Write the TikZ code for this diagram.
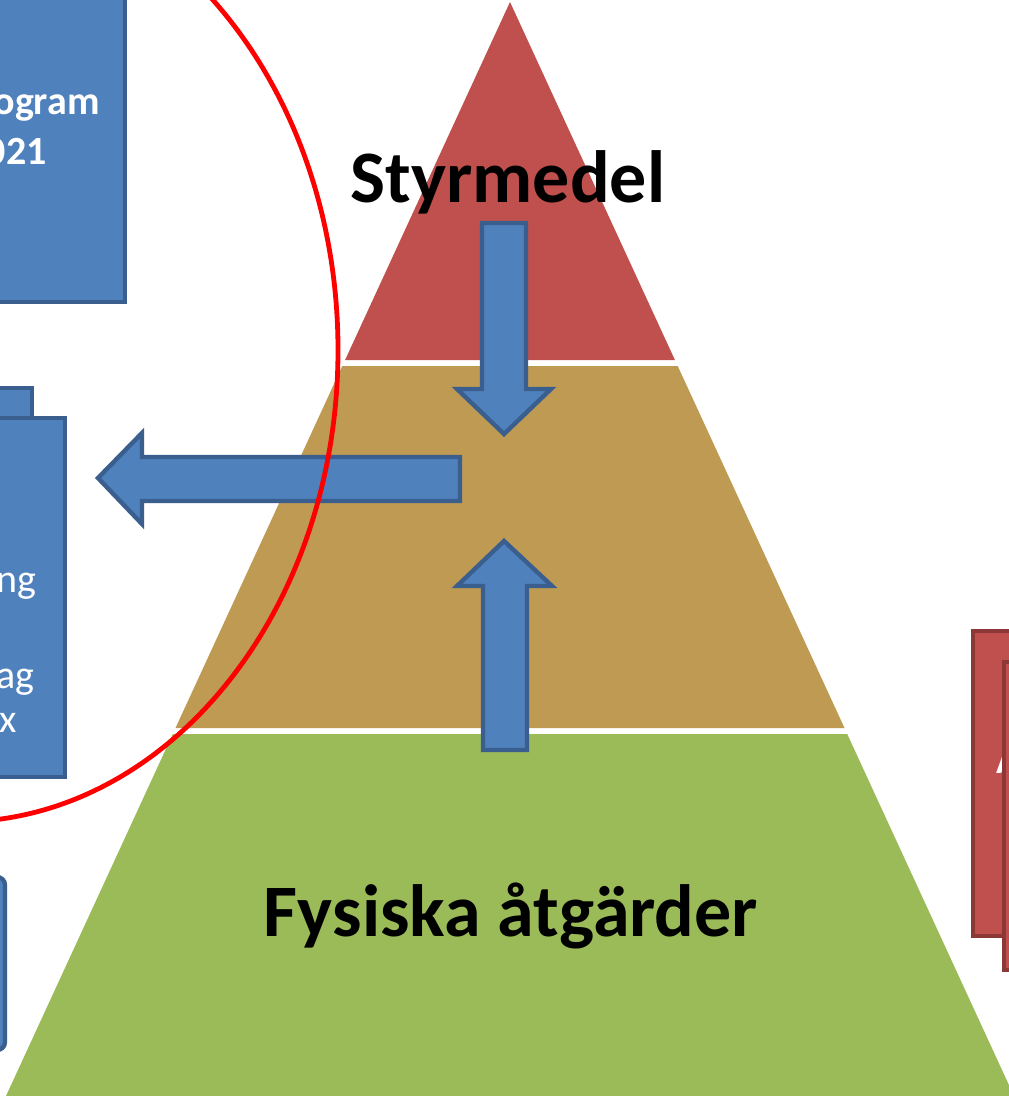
\documentclass[tikz,border=0pt]{standalone}
\usepackage{fontspec}
\setmainfont{Carlito}
\definecolor{pred}{HTML}{C0504D}
\definecolor{ptan}{HTML}{BE9A53}
\definecolor{pgreen}{HTML}{9BBB59}
\definecolor{pblue}{HTML}{4F81BD}
\definecolor{pblueline}{HTML}{3A5F8E}
\definecolor{predline}{HTML}{8C3836}
\begin{document}
\begin{tikzpicture}[x=0.5pt,y=-0.5pt,
  bluebox/.style={fill=pblue,draw=pblueline,line width=2.2pt},
  redbox/.style={fill=pred,draw=predline,line width=2.2pt},
  blockarrow/.style={fill=pblue,draw=pblueline,line width=2.2pt,line join=miter},
  bigtext/.style={font=\bfseries\fontsize{37}{44}\selectfont,text=black,inner sep=0pt},
  boxbold/.style={font=\bfseries\fontsize{20}{24}\selectfont,text=white,inner sep=0pt},
  boxtext/.style={font=\fontsize{20}{24}\selectfont,text=white,inner sep=0pt}]
\useasboundingbox (0,0) rectangle (1008,1096);
\fill[white] (0,0) rectangle (1008,1096);
% pyramid layers
\fill[pred] (510,2) -- (674.9,360) -- (345.1,360) -- cycle;
\fill[ptan] (342.3,366) -- (677.7,366) -- (844.5,728) -- (175.5,728) -- cycle;
\fill[pgreen] (172.8,734) -- (847.2,734) -- (1014,1096) -- (6,1096) -- cycle;
% texts on pyramid
\node[bigtext,anchor=base] (styr) at (508,203) {Styrmedel};
\node[bigtext,anchor=base] (fys) at (511,936) {Fysiska åtgärder};
% block arrows
\draw[blockarrow] (482,223) -- (526,223) -- (526,389) -- (551,389) -- (504,434) -- (457,389) -- (482,389) -- cycle;
\draw[blockarrow] (504,541) -- (552,586) -- (527,586) -- (527,750) -- (483,750) -- (483,586) -- (457,586) -- cycle;
\draw[blockarrow] (98,478) -- (142,433) -- (142,457) -- (460,457) -- (460,501) -- (142,501) -- (142,524) -- cycle;
% left boxes
\draw[bluebox] (-20,-20) rectangle (125,302);
\node[boxbold,anchor=base east] (prog1) at (100,115) {ogram};
\node[boxbold,anchor=base east] (prog2) at (47,165) {021};
\draw[bluebox] (-20,388) rectangle (32,460);
\draw[bluebox] (-20,418) rectangle (65,777);
\node[boxtext,anchor=base east] (l1) at (37,592) {ng};
\node[boxtext,anchor=base east] (l2) at (35,688) {ag};
\node[boxtext,anchor=base east] (l3) at (17,732) {x};
\draw[bluebox,rounded corners=4pt] (-40,877) rectangle (5,1050);
% right boxes
\draw[redbox] (973,631) rectangle (1040,936);
\node[boxbold,anchor=base west] (ra) at (996,773) {A};
\draw[redbox] (1004,662) rectangle (1040,970);
% red ellipse
\draw[red,line width=2.4pt] (-42,350) ellipse [x radius=190pt, y radius=236pt];
\end{tikzpicture}
\end{document}
